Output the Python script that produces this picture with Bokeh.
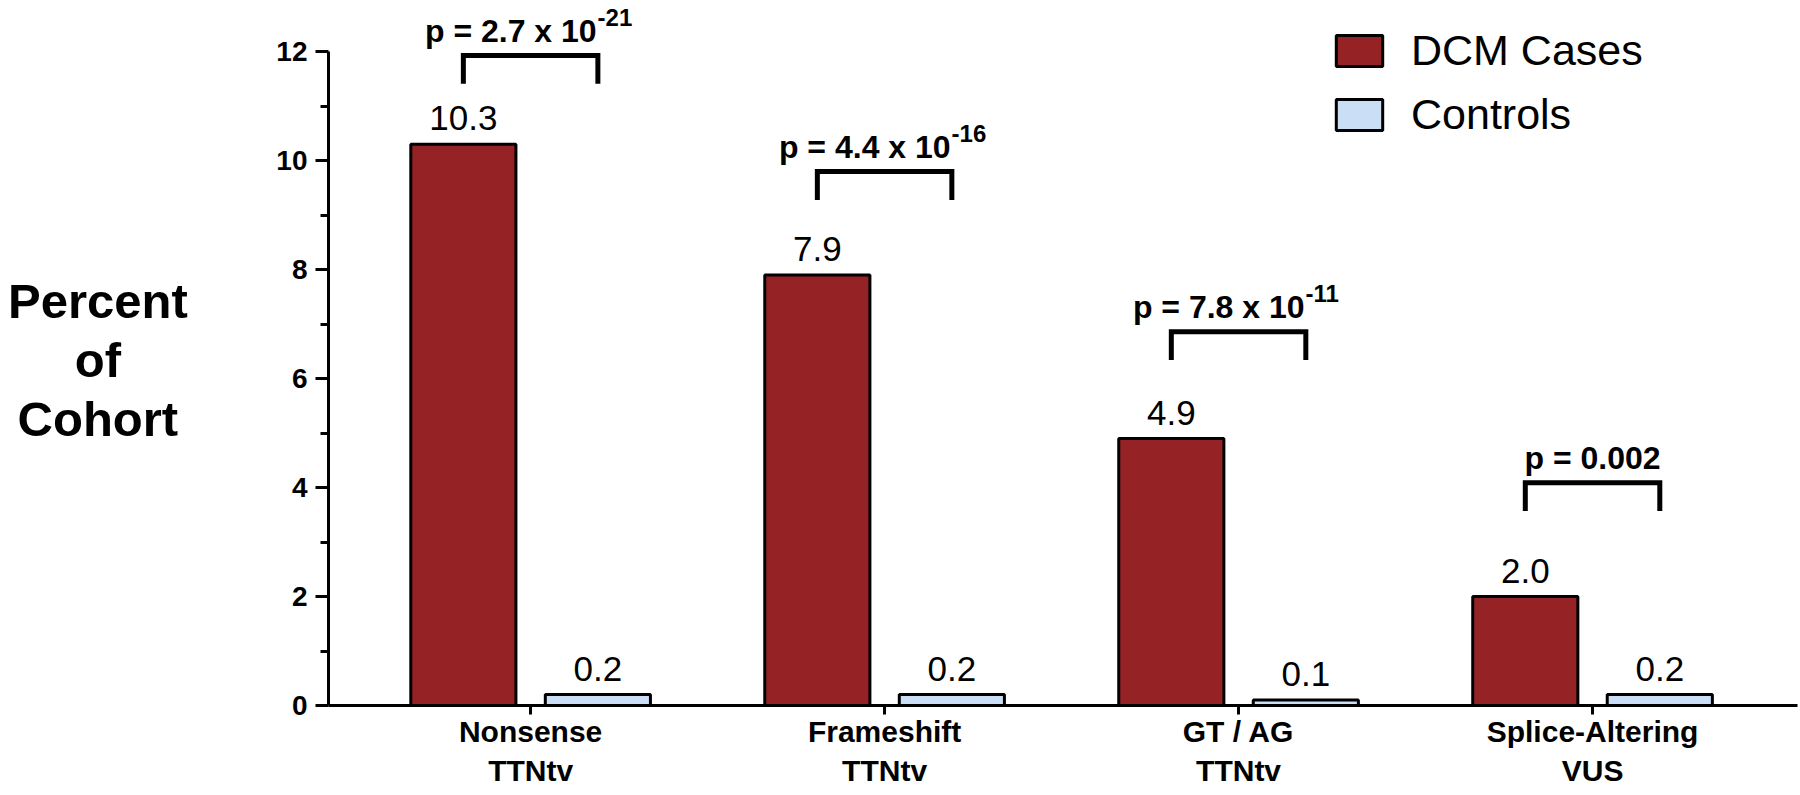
from bokeh.plotting import figure
from bokeh.models import ColumnDataSource, FixedTicker, Legend, LegendItem, Range1d, Div
from bokeh.layouts import row
from bokeh.core.properties import value
from bokeh.embed import file_html
from bokeh.resources import INLINE

# ---- data ----
categories = ["Nonsense\nTTNtv", "Frameshift\nTTNtv", "GT / AG\nTTNtv", "Splice-Altering\nVUS"]
dcm_cases = [10.3, 7.9, 4.9, 2.0]
controls = [0.2, 0.2, 0.1, 0.2]
value_labels_dcm = ["10.3", "7.9", "4.9", "2.0"]
value_labels_ctl = ["0.2", "0.2", "0.1", "0.2"]
p_main = ["p = 2.7 x 10", "p = 4.4 x 10", "p = 7.8 x 10", "p = 0.002"]
p_exp = ["-21", "-16", "-11", ""]
y_ticks = [0, 2, 4, 6, 8, 10, 12]
y_minor = [1, 3, 5, 7, 9, 11]
y_label_lines = ["Percent", "of", "Cohort"]

# ---- layout (annotation positions, not data) ----
bracket_y = [11.93, 9.80, 6.86, 4.09]
offset = 0.19
bar_w = 0.297
leg_drop = 0.52

FONT = "Liberation Sans"
DCM_COLOR = "#952326"
CTL_COLOR = "#CADFF5"

xc = list(range(len(categories)))
x_dcm = [x - offset for x in xc]
x_ctl = [x + offset for x in xc]

DIV_W = 186
TOTAL_W = 1800
TOTAL_H = 795
p = figure(width=TOTAL_W - DIV_W, height=TOTAL_H, output_backend="svg", toolbar_location=None,
           x_range=Range1d(-0.571, 3.579), y_range=Range1d(0, 12.94),
           min_border_left=328 - DIV_W, min_border_right=3, min_border_top=0, min_border_bottom=90)
p.outline_line_color = None
p.grid.visible = False
p.background_fill_color = "white"
p.border_fill_color = None

src_d = ColumnDataSource(dict(x=x_dcm, top=dcm_cases, lab=value_labels_dcm))
src_c = ColumnDataSource(dict(x=x_ctl, top=controls, lab=value_labels_ctl))

r1 = p.vbar(x="x", top="top", bottom=0, width=bar_w, source=src_d,
            fill_color=DCM_COLOR, line_color="black", line_width=3)
r2 = p.vbar(x="x", top="top", bottom=0, width=bar_w, source=src_c,
            fill_color=CTL_COLOR, line_color="black", line_width=3)

# value labels
for src in (src_d, src_c):
    p.text(x="x", y="top", text="lab", source=src, text_align="center",
           text_baseline="alphabetic", y_offset=-26, text_font=value(FONT),
           text_font_size="35px", text_color="black")

# brackets
xs, ys = [], []
for i in xc:
    l, r, y = x_dcm[i], x_ctl[i], bracket_y[i]
    xs.append([l, l, r, r])
    ys.append([y - leg_drop, y, y, y - leg_drop])
p.multi_line(xs=xs, ys=ys, line_color="black", line_width=5, line_join="miter")

# p-values
mid = [(x_dcm[i] + x_ctl[i]) / 2 for i in xc]
exp_idx = [i for i in xc if p_exp[i]]
plain_idx = [i for i in xc if not p_exp[i]]
src_pm = ColumnDataSource(dict(x=[mid[i] for i in exp_idx], y=[bracket_y[i] for i in exp_idx],
                               t=[p_main[i] for i in exp_idx], e=[p_exp[i] for i in exp_idx]))
p.text(x="x", y="y", text="t", source=src_pm, text_align="right", text_baseline="alphabetic",
       x_offset=66, y_offset=-25, text_font=value(FONT), text_font_style="bold",
       text_font_size="32px", text_color="black")
p.text(x="x", y="y", text="e", source=src_pm, text_align="left", text_baseline="alphabetic",
       x_offset=67, y_offset=-38, text_font=value(FONT), text_font_style="bold",
       text_font_size="24px", text_color="black")
src_pp = ColumnDataSource(dict(x=[mid[i] for i in plain_idx], y=[bracket_y[i] for i in plain_idx],
                               t=[p_main[i] for i in plain_idx]))
p.text(x="x", y="y", text="t", source=src_pp, text_align="center", text_baseline="alphabetic",
       y_offset=-25, text_font=value(FONT), text_font_style="bold",
       text_font_size="32px", text_color="black")

# axes
xa = p.xaxis[0]
xa.ticker = FixedTicker(ticks=xc)
xa.major_label_overrides = {i: categories[i] for i in xc}
xa.axis_line_width = 3
xa.major_tick_line_width = 3
xa.major_tick_out = 9
xa.major_tick_in = 0
xa.minor_tick_line_color = None
xa.major_label_standoff = 0
xa.major_label_text_font = FONT
xa.major_label_text_font_style = "bold"
xa.major_label_text_font_size = "30px"
xa.major_label_text_color = "black"

ya = p.yaxis[0]
ya.ticker = FixedTicker(ticks=y_ticks, minor_ticks=y_minor)
ya.bounds = (0, 12)
ya.axis_line_width = 3
ya.major_tick_line_width = 3
ya.minor_tick_line_width = 3
ya.major_tick_out = 13
ya.major_tick_in = 0
ya.minor_tick_out = 8
ya.minor_tick_in = 0
ya.major_label_standoff = 8
ya.major_label_text_font = FONT
ya.major_label_text_font_style = "bold"
ya.major_label_text_font_size = "28px"
ya.major_label_text_color = "black"

legend = Legend(items=[LegendItem(label="DCM Cases", renderers=[r1]),
                       LegendItem(label="Controls", renderers=[r2])],
                location=(1002, 566), orientation="vertical",
                glyph_width=58, glyph_height=39, label_standoff=23, label_height=46,
                label_text_font=FONT, label_text_font_size="43px", label_text_color="black",
                spacing=15, padding=0, margin=0,
                border_line_alpha=0, background_fill_alpha=0)
p.add_layout(legend)

# y axis title, three centred lines left of the axis
ylabel = Div(text="<br>".join(y_label_lines), width=DIV_W, height=TOTAL_H, margin=0,
             styles={"font-family": "'Liberation Sans', Arial, sans-serif", "font-weight": "bold",
                     "font-size": "49px", "line-height": "59px", "text-align": "center",
                     "padding-top": "272px", "padding-left": "8px", "padding-right": "8px",
                     "color": "black", "width": f"{DIV_W}px", "box-sizing": "border-box",
                     "overflow": "visible"})

layout = row(ylabel, p, spacing=0)

open("out.html", "w").write(file_html(layout, INLINE))
